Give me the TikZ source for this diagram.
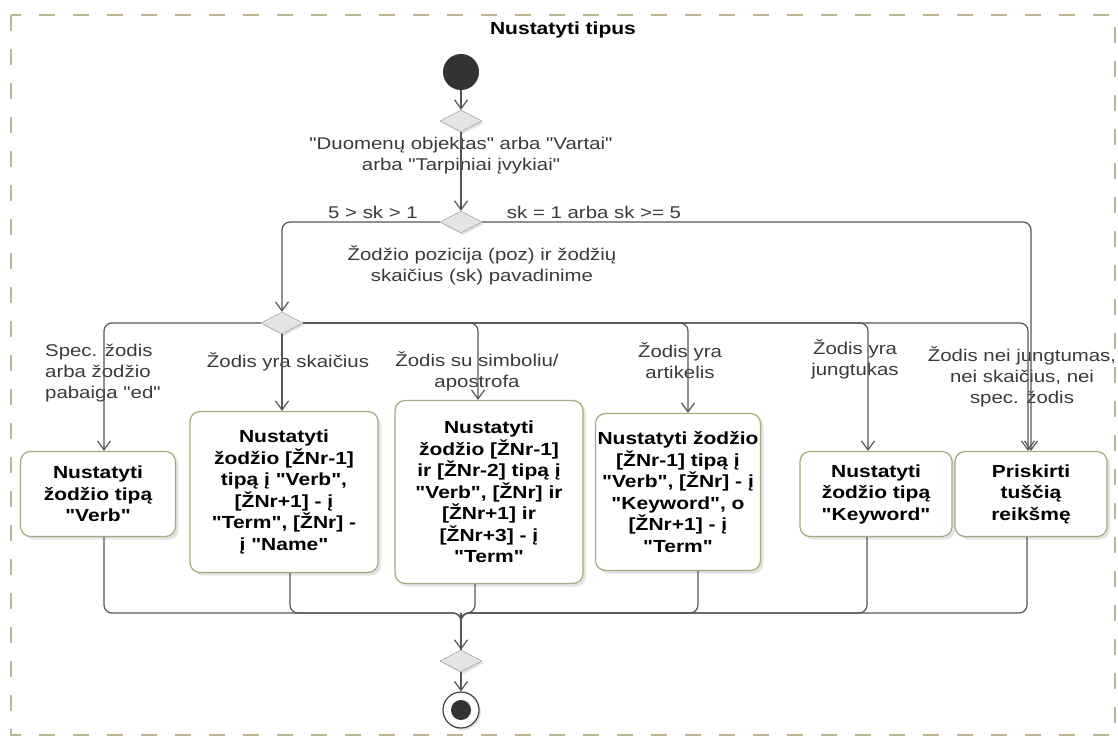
\documentclass[tikz,border=0pt]{standalone}
\usepackage{fontspec}
\setmainfont[FakeStretch=1.2, Ligatures=TeXOff]{Liberation Sans}
\usetikzlibrary{shapes.geometric,arrows.meta,shadows}
\definecolor{lineGray}{HTML}{555555}
\definecolor{boxEdge}{HTML}{A9A77E}
\definecolor{frameDash}{HTML}{BDB591}
\definecolor{diaFill}{HTML}{E4E4E4}
\definecolor{diaEdge}{HTML}{8C8C8C}
\definecolor{labelGray}{HTML}{3A3A3A}
\tikzset{
    every node/.style={font=\fontsize{17}{21}\selectfont}
}
\tikzset{
    action/.style={rectangle, rounded corners=10pt, draw=boxEdge, fill=white,
    	line width=1.2pt, align=center, inner sep=2pt,
    	font=\fontsize{17.5}{21.5}\selectfont\bfseries,
    	drop shadow={shadow xshift=3pt, shadow yshift=-3pt, fill=black!22}},
    decision/.style={diamond, aspect=1.9, draw=diaEdge, fill=diaFill,
    	minimum width=42pt, minimum height=22pt, inner sep=0pt,
    	drop shadow={shadow xshift=2pt, shadow yshift=-2pt, fill=black!22}},
    guard/.style={text=labelGray, align=center, inner sep=0pt}
}
\tikzset{
    flow/.style={draw=lineGray, line width=1.2pt, rounded corners=8pt,
    	-{Straight Barb[length=9pt,width=13pt]}},
    merge/.style={draw=lineGray, line width=1.2pt, rounded corners=8pt}
}

\begin{document}
\begin{tikzpicture}[x=1pt, y=-1pt]
  \useasboundingbox (0,0) rectangle (1118,738);
  \draw[frameDash, line width=1.3pt, dash pattern=on 16pt off 18pt]
  	(11,15) rectangle (1115,735);
  \node (title) [font=\fontsize{17.5}{21}\selectfont\bfseries] at (563, 30) {Nustatyti tipus};

  \node (start) [circle, fill=black!80, minimum size=36pt] at (461, 72) {};
  \node (d1) [decision] at (461, 121) {};
  \node (d2) [decision] at (461, 222) {};
  \node (d3) [decision] at (282, 323) {};
  \node (d4) [decision] at (461, 661) {};
  \node (end) [circle, draw=black!75, line width=1.2pt, fill=white, minimum size=36pt,
  	drop shadow={shadow xshift=2pt, shadow yshift=-2pt, fill=black!22}] at (461, 710) {};
  \node (endDot) [circle, fill=black!80, minimum size=20pt] at (end) {};

  \node (b1) [action, minimum width=155pt, minimum height=85pt] at (98, 494)
  	{Nustatyti\\žodžio tipą\\"Verb"};
  \node (b2) [action, minimum width=188pt, minimum height=161pt] at (284, 492)
  	{Nustatyti\\žodžio [ŽNr-1]\\tipą į "Verb",\\{}[ŽNr+1] - į\\"Term", [ŽNr] -\\į "Name"};
  \node (b3) [action, minimum width=188pt, minimum height=183pt] at (489, 492)
  	{Nustatyti\\žodžio [ŽNr-1]\\ir [ŽNr-2] tipą į\\"Verb", [ŽNr] ir\\{}[ŽNr+1] ir\\{}[ŽNr+3] - į\\"Term"};
  \node (b4) [action, minimum width=164pt, minimum height=157pt] at (678, 492)
  	{Nustatyti žodžio\\{}[ŽNr-1] tipą į\\"Verb", [ŽNr] - į\\"Keyword", o\\{}[ŽNr+1] - į\\"Term"};
  \node (b5) [action, minimum width=152pt, minimum height=85pt] at (876, 494)
  	{Nustatyti\\žodžio tipą\\"Keyword"};
  \node (b6) [action, minimum width=152pt, minimum height=85pt] at (1031, 494)
  	{Priskirti\\tuščią\\reikšmę};

  \coordinate (m) at (461, 613);

  % guards
  \node (g1) [guard] at (461, 156) {"Duomenų objektas" arba "Vartai"\\arba "Tarpiniai įvykiai"};
  \node (g2) [guard] at (373, 212) {5 > sk > 1};
  \node (g3) [guard] at (594, 212) {sk = 1 arba sk >= 5};
  \node (g4) [guard] at (482, 265) {Žodžio pozicija (poz) ir žodžių\\skaičius (sk) pavadinime};
  \node (g5) [guard, align=left, anchor=west] at (45, 373) {Spec. žodis\\arba žodžio\\pabaiga "ed"};
  \node (g6) [guard] at (288, 362) {Žodis yra skaičius};
  \node (g7) [guard] at (477, 371) {Žodis su simboliu/\\apostrofa};
  \node (g8) [guard] at (680, 361) {Žodis yra\\artikelis};
  \node (g9) [guard] at (855, 359) {Žodis yra\\jungtukas};
  \node (g10) [guard] at (1022, 377) {Žodis nei jungtumas,\\nei skaičius, nei\\spec. žodis};

  \draw[flow] (start) -- (d1);
  \draw[flow] (d1) -- (d2);
  \draw[flow] (d2.west) -| (d3.north);
  \draw[flow] (d2.east) -| (b6.north);
  \draw[flow] (d3.west) -| ([xshift=6pt]b1.north);
  \draw[flow] (d3.south) -- (d3.south |- b2.north);
  \draw[flow] (d3.east) -| ([xshift=-11pt]b3.north);
  \draw[flow] (d3.east) -| ([xshift=10pt]b4.north);
  \draw[flow] (d3.east) -| ([xshift=-8pt]b5.north);
  \draw[flow] (d3.east) -| ([xshift=-3pt]b6.north);

  % joins into the last decision
  \draw[merge] ([xshift=6pt]b1.south) |- (m) -- (d4.north);
  \draw[merge] ([xshift=6pt]b2.south) |- (m) -- (d4.north);
  \draw[merge] ([xshift=-14pt]b3.south) |- (m) -- (d4.north);
  \draw[merge] ([xshift=20pt]b4.south) |- (m) -- (d4.north);
  \draw[merge] ([xshift=-9pt]b5.south) |- (m) -- (d4.north);
  \draw[merge] ([xshift=-4pt]b6.south) |- (m) -- (d4.north);
  \draw[flow] (m) -- (d4);
  \draw[flow] (d4) -- (end);
\end{tikzpicture}
\end{document}
